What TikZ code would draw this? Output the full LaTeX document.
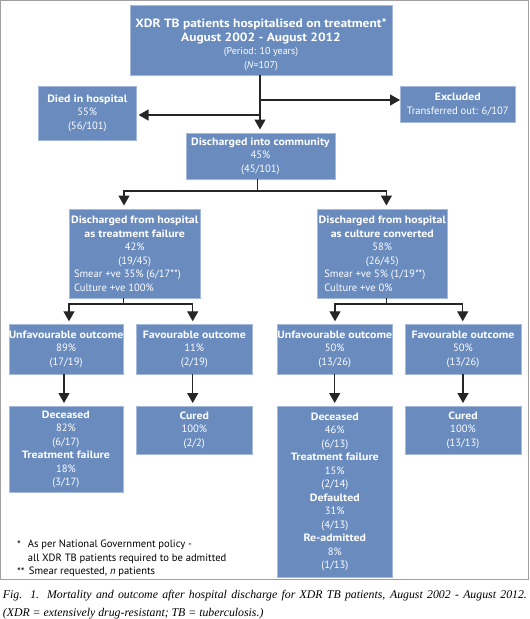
\documentclass[tikz,border=0pt]{standalone}
\usepackage{fontspec}
\setmainfont{Liberation Serif}
\setsansfont{PT Sans}[BoldFeatures={FakeStretch=1.12}]
\usetikzlibrary{arrows.meta}
\definecolor{boxblue}{RGB}{105,139,190}
\definecolor{boxedge}{RGB}{165,186,218}
\definecolor{framegray}{RGB}{160,160,160}
\tikzset{
  box/.style={draw=boxedge, line width=0.6pt, fill=boxblue, text=white, align=center,
    inner sep=0pt, anchor=north west, font=\sffamily\fontsize{10.6}{13.5}\selectfont},
  boxtext/.style={text=white, align=center, inner sep=0pt, font=\sffamily\fontsize{10.6}{13.5}\selectfont},
  conn/.style={line width=1.3pt, draw=black!85},
  arr/.style={conn, -{Triangle[width=11pt,length=10pt]}},
  foot/.style={anchor=west, inner sep=0pt, font=\sffamily\fontsize{10.6}{13.5}\selectfont},
  capt/.style={anchor=west, inner sep=0pt, font=\rmfamily\itshape\fontsize{11.8}{18}\selectfont},
}
\begin{document}
\begin{tikzpicture}[x=1pt, y=-1pt]
\useasboundingbox (0,0) rectangle (530,619);
\draw[framegray, line width=1.3pt] (0.8,0.8) rectangle (528.8,579.3);

% boxes
\node[box, minimum width=262.5pt, minimum height=70pt] (top) at (129.5,5) {};
\node[boxtext] (topT) at (261,44.5)
  {{\fontsize{12}{15.5}\selectfont\bfseries XDR TB patients hospitalised on treatment*}\\
   {\fontsize{12}{16}\selectfont\bfseries August 2002 - August 2012}\\
   {\fontsize{10}{13}\selectfont (Period: 10 years)}\\
   {\fontsize{10}{13}\selectfont (\textit{N}=107)}};
\node[box, minimum width=98pt, minimum height=54pt] (died) at (38,86)
  {\textbf{Died in hospital}\\55\%\\(56/101)};
\node[box, minimum width=115pt, minimum height=36pt] (excl) at (400,86)
  {\textbf{Excluded}\\Transferred out: 6/107};
\node[box, minimum width=149pt, minimum height=46.5pt] (comm) at (185.6,132.5)
  {\textbf{Discharged into community}\\45\%\\(45/101)};
\node[box, minimum width=130.2pt, minimum height=88.5pt] (tf) at (69.3,209)
  {\textbf{Discharged from hospital}\\\textbf{as treatment failure}\\42\%\\(19/45)\\
   \makebox[121.4pt][l]{Smear +ve 35\% (6/17**)}\\\makebox[121.4pt][l]{Culture +ve 100\%}};
\node[box, minimum width=130pt, minimum height=88.5pt] (cc) at (317,209)
  {\textbf{Discharged from hospital}\\\textbf{as culture converted}\\58\%\\(26/45)\\
   \makebox[116pt][l]{Smear +ve 5\% (1/19**)}\\\makebox[116pt][l]{Culture +ve 0\%}};
\node[box, minimum width=114.2pt, minimum height=50pt] (unfL) at (8.5,323.8)
  {\textbf{Unfavourable outcome}\\89\%\\(17/19)};
\node[box, minimum width=116pt, minimum height=50pt] (favL) at (136,323.8)
  {\textbf{Favourable outcome}\\11\%\\(2/19)};
\node[box, minimum width=115pt, minimum height=50pt] (unfR) at (277,323.8)
  {\textbf{Unfavourable outcome}\\50\%\\(13/26)};
\node[box, minimum width=116pt, minimum height=50pt] (favR) at (404.7,323.8)
  {\textbf{Favourable outcome}\\50\%\\(13/26)};
\node[box, minimum width=114.2pt, minimum height=85.7pt] (decL) at (8.5,406)
  {\textbf{Deceased}\\82\%\\(6/17)\\\textbf{Treatment failure}\\18\%\\(3/17)};
\node[box, minimum width=116pt, minimum height=48pt] (curL) at (136,406)
  {\textbf{Cured}\\100\%\\(2/2)};
\node[box, minimum width=115pt, minimum height=171pt] (decR) at (277,406)
  {\textbf{Deceased}\\46\%\\(6/13)\\\textbf{Treatment failure}\\15\%\\(2/14)\\
   \textbf{Defaulted}\\31\%\\(4/13)\\\textbf{Re-admitted}\\8\%\\(1/13)};
\node[box, minimum width=116pt, minimum height=48pt] (curR) at (404.7,406)
  {\textbf{Cured}\\100\%\\(13/13)};

% connectors
\coordinate (t0) at (260,75);
\coordinate (jE) at (260,100);
\coordinate (jD) at (260,115);
\draw[arr, shorten >=3pt] (t0) -- (t0 |- comm.north);
\draw[arr] (jE) -- (jE -| excl.west);
\draw[arr, shorten >=2pt] (jD) -- (jD -| died.east);

\coordinate (c0) at (257.6,179);
\coordinate (c1) at (257.6,191);
\coordinate (cL) at (124,191);
\coordinate (cR) at (386.4,191);
\draw[conn] (c0) -- (c1);
\draw[arr, shorten >=3.5pt] (c1) -| (cL |- tf.north);
\draw[arr, shorten >=3.5pt] (c1) -| (cR |- cc.north);

\coordinate (l0) at (123.3,297.5);
\coordinate (l1) at (123.3,304);
\coordinate (lL) at (69,304);
\coordinate (lR) at (192.7,304);
\draw[conn] (l0) -- (l1);
\draw[arr, shorten >=2.5pt] (l1) -| (lL |- unfL.north);
\draw[arr, shorten >=2.5pt] (l1) -| (lR |- favL.north);

\coordinate (r0) at (386.7,297.5);
\coordinate (r1) at (386.7,304);
\coordinate (rL) at (335,304);
\coordinate (rR) at (462.7,304);
\draw[conn] (r0) -- (r1);
\draw[arr, shorten >=2.5pt] (r1) -| (rL |- unfR.north);
\draw[arr, shorten >=2.5pt] (r1) -| (rR |- favR.north);

\coordinate (d1) at (64,373.8);
\coordinate (d2) at (192.7,373.8);
\coordinate (d3) at (334.7,373.8);
\coordinate (d4) at (463,373.8);
\draw[arr, shorten >=3pt] (d1) -- (d1 |- decL.north);
\draw[arr, shorten >=3pt] (d2) -- (d2 |- curL.north);
\draw[arr, shorten >=3pt] (d3) -- (d3 |- decR.north);
\draw[arr, shorten >=3pt] (d4) -- (d4 |- curR.north);

% footnotes
\node[foot] (f1m) at (17,544.8) {*};
\node[foot] (f1) at (27.7,544.8) {As per National Government policy -};
\node[foot] (f2) at (27.7,558.5) {all XDR TB patients required to be admitted};
\node[foot] (f3m) at (17,571.8) {**};
\node[foot] (f3) at (28.7,571.8) {Smear requested, \textit{n} patients};

% caption
\node[capt] (cap1) at (2.7,596) {\makebox[524pt][s]{Fig. 1. Mortality and outcome after hospital discharge for XDR TB patients, August 2002 - August 2012.}};
\node[capt] (cap2) at (2.7,614) {(XDR = extensively drug-resistant; TB = tuberculosis.)};
\end{tikzpicture}
\end{document}
